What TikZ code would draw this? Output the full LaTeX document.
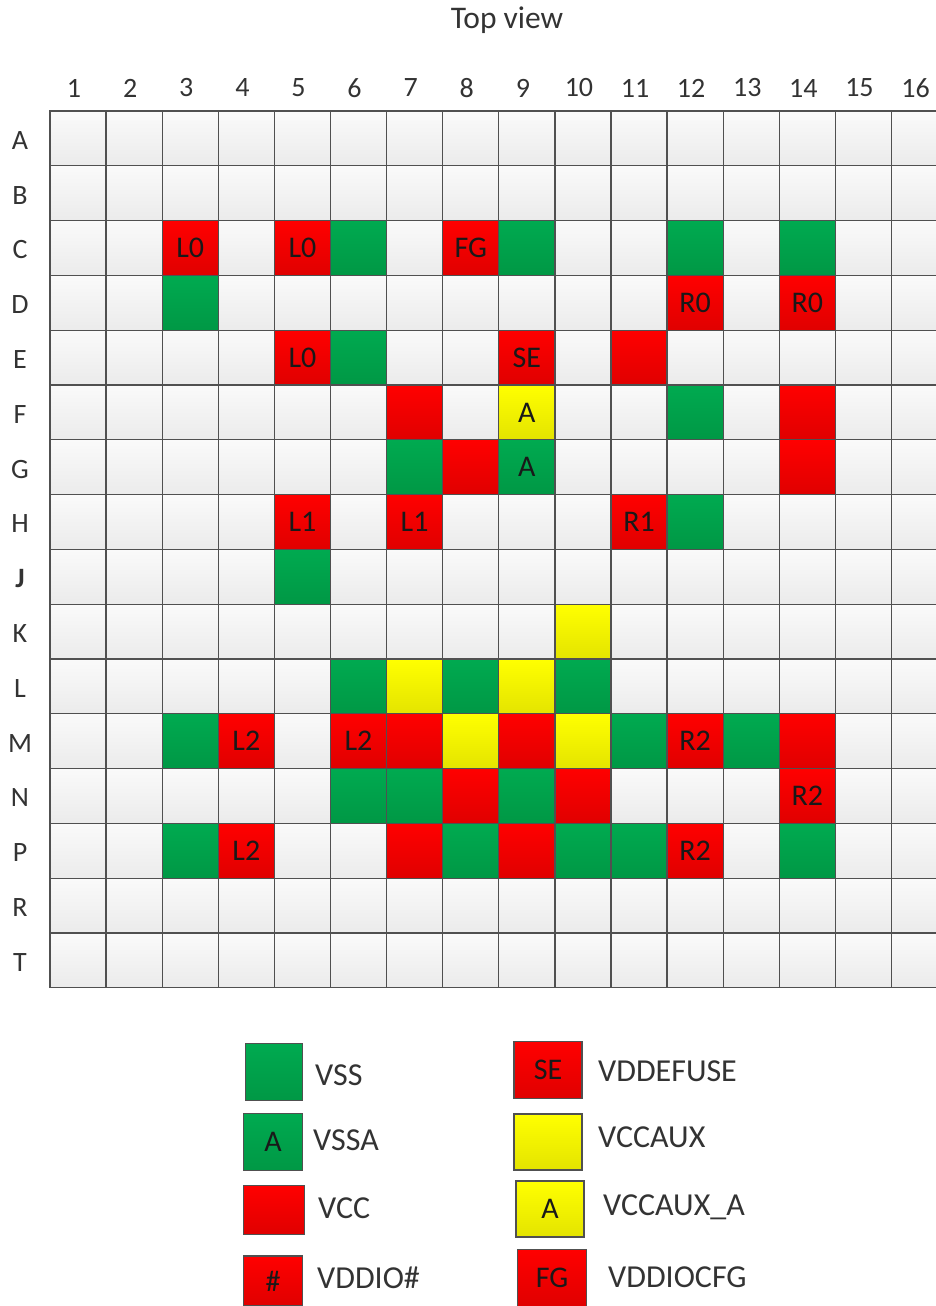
\documentclass[tikz,border=0pt]{standalone}
\usepackage{fontspec}
\setmainfont{Carlito}
\usepackage{tikz}
\usetikzlibrary{positioning}
\definecolor{gridline}{HTML}{505050}
\definecolor{cellhi}{HTML}{FAFAFA}
\definecolor{celllo}{HTML}{EBEBEB}
\definecolor{vsshi}{HTML}{00AA50}
\definecolor{vsslo}{HTML}{009845}
\definecolor{vcchi}{HTML}{FF0000}
\definecolor{vcclo}{HTML}{E00000}
\definecolor{auxhi}{HTML}{FFFF00}
\definecolor{auxlo}{HTML}{E4E400}
\tikzset{
  cell/.style    = {draw=gridline, line width=1.3pt, rectangle, inner sep=0pt,
                    minimum width=56.1pt, minimum height=54.8pt,
                    top color=cellhi, bottom color=celllo, text=black!90,
                    font=\fontsize{30}{32}\selectfont},
  vss/.style     = {top color=vsshi, bottom color=vsslo},
  vcc/.style     = {top color=vcchi, bottom color=vcclo},
  aux/.style     = {top color=auxhi, bottom color=auxlo},
  axislab/.style = {font=\fontsize{28}{30}\selectfont, text=black!80},
  legtext/.style = {anchor=west, font=\fontsize{32}{34}\selectfont, text=black!80, inner sep=0pt},
}
\begin{document}
\begin{tikzpicture}[x=1pt,y=-1pt]
\useasboundingbox (0,0) rectangle (936,1306);
\node[font=\fontsize{31.5}{33}\selectfont, text=black!80] (title) at (507,20) {Top view};
% empty grid
\foreach \r in {1,...,16}{
  \foreach \c in {1,...,16}{
    \node[cell] (c-\r-\c) at ({50+56.1*(\c-0.5)},{111+54.8*(\r-0.5)}) {};}}
% column numbers
\foreach \c in {1,...,16}
  \node[axislab] (col-\c) at ({46+56.1*(\c-0.5)},88) {\c};
% row letters
\foreach \r/\lab in {1/A,2/B,3/C,4/D,5/E,6/F,7/G,8/H,9/\textbf{J},10/K,11/L,12/M,13/N,14/P,15/R,16/T}
  \node[axislab] (row-\r) at (20,{113+54.8*(\r-0.5)}) {\lab};
% supply balls
\foreach \r/\c/\k/\t in {
  3/3/vcc/L0, 3/5/vcc/L0, 3/6/vss/{}, 3/8/vcc/FG, 3/9/vss/{}, 3/12/vss/{}, 3/14/vss/{},
  4/3/vss/{}, 4/12/vcc/R0, 4/14/vcc/R0,
  5/5/vcc/L0, 5/6/vss/{}, 5/9/vcc/SE, 5/11/vcc/{},
  6/7/vcc/{}, 6/9/aux/A, 6/12/vss/{}, 6/14/vcc/{},
  7/7/vss/{}, 7/8/vcc/{}, 7/9/vss/A, 7/14/vcc/{},
  8/5/vcc/L1, 8/7/vcc/L1, 8/11/vcc/R1, 8/12/vss/{},
  9/5/vss/{},
  10/10/aux/{},
  11/6/vss/{}, 11/7/aux/{}, 11/8/vss/{}, 11/9/aux/{}, 11/10/vss/{},
  12/3/vss/{}, 12/4/vcc/L2, 12/6/vcc/L2, 12/7/vcc/{}, 12/8/aux/{}, 12/9/vcc/{},
  12/10/aux/{}, 12/11/vss/{}, 12/12/vcc/R2, 12/13/vss/{}, 12/14/vcc/{},
  13/6/vss/{}, 13/7/vss/{}, 13/8/vcc/{}, 13/9/vss/{}, 13/10/vcc/{}, 13/14/vcc/R2,
  14/3/vss/{}, 14/4/vcc/L2, 14/7/vcc/{}, 14/8/vss/{}, 14/9/vcc/{}, 14/10/vss/{},
  14/11/vss/{}, 14/12/vcc/R2, 14/14/vss/{}}
  \node[cell,\k] (b-\r-\c) at (c-\r-\c) {\t};
% legend
\node[cell,vss,minimum width=57pt,minimum height=57pt] (k-vss) at (274,1072) {};
\node[legtext] (t-vss) at (315,1075) {VSS};
\node[cell,vss,minimum width=59pt,minimum height=57pt] (k-vssa) at (273,1142) {A};
\node[legtext] (t-vssa) at (313,1140) {VSSA};
\node[cell,vcc,minimum width=61pt,minimum height=49pt] (k-vcc) at (274,1210) {};
\node[legtext] (t-vcc) at (318,1208) {VCC};
\node[cell,vcc,minimum width=59pt,minimum height=50pt] (k-io) at (273,1281) {\#};
\node[legtext] (t-io) at (317,1278) {VDDIO\#};
\node[cell,vcc,minimum width=68pt,minimum height=57pt] (k-se) at (548,1070) {SE};
\node[legtext] (t-se) at (598,1071) {VDDEFUSE};
\node[cell,aux,minimum width=68pt,minimum height=56pt] (k-aux) at (548,1142) {};
\node[legtext] (t-aux) at (598,1137) {VCCAUX};
\node[cell,aux,minimum width=68pt,minimum height=56pt] (k-auxa) at (550,1209) {A};
\node[legtext] (t-auxa) at (603,1207) {VCCAUX\_A};
\node[cell,vcc,minimum width=69pt,minimum height=57pt] (k-fg) at (552,1278) {FG};
\node[legtext] (t-fg) at (608,1277) {VDDIOCFG};
\end{tikzpicture}
\end{document}
